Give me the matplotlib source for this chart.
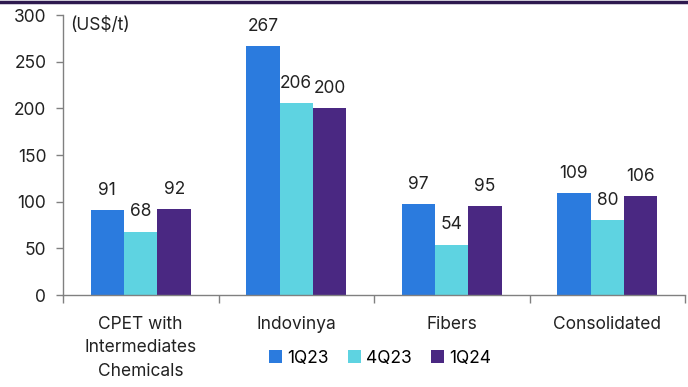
import matplotlib
matplotlib.use("Agg")
import matplotlib.pyplot as plt
import numpy as np

categories = ["CPET with\nIntermediates\nChemicals", "Indovinya", "Fibers", "Consolidated"]
series_names = ["1Q23", "4Q23", "1Q24"]
q1_23 = [91, 267, 97, 109]
q4_23 = [68, 206, 54, 80]
q1_24 = [92, 200, 95, 106]
yticks = [0, 50, 100, 150, 200, 250, 300]
colors = ["#2B7BDE", "#5ED3E1", "#4A2882"]

plt.rcParams['font.family'] = ['Inter', 'DejaVu Sans']
fig = plt.figure(figsize=(6.88, 3.87), dpi=100)
ax = fig.add_axes([63/688, 1-295/387, (685-63)/688, (295-15)/387])

x = np.arange(len(categories))
w = 0.215
fs = 12.5
tc = "#222222"
for i, (vals, name) in enumerate(zip([q1_23, q4_23, q1_24], series_names)):
    pos = x + (i - 1) * w
    ax.bar(pos, vals, width=w, color=colors[i], label=name, zorder=2)
    for xp, v in zip(pos, vals):
        ax.annotate(str(v), (xp, v), xytext=(0, 8), textcoords="offset points",
                    ha="center", va="bottom", fontsize=fs, color=tc)

ax.set_xlim(-0.5, 3.5)
ax.set_ylim(0, 300)
ax.set_yticks(yticks)
ax.set_yticklabels([str(t) for t in yticks], fontsize=fs, color=tc)
ax.tick_params(axis="y", length=5, color="#808080", width=1, pad=7)

ax.set_xticks(np.arange(-0.5, 4.0, 1.0))
ax.set_xticklabels([])
ax.tick_params(axis="x", which="major", length=6, color="#808080", width=1)
ax.set_xticks(x, minor=True)
ax.set_xticklabels(categories, minor=True, fontsize=fs, color=tc, linespacing=1.5)
ax.tick_params(axis="x", which="minor", length=0, pad=15)

for s in ["top", "right"]:
    ax.spines[s].set_visible(False)
for s in ["left", "bottom"]:
    ax.spines[s].set_color("#808080")
    ax.spines[s].set_linewidth(1)

ax.text(70/688, 1-25/387, "(US$/t)", transform=fig.transFigure, fontsize=fs,
        color=tc, va="center", ha="left")

fig.legend(loc="center", bbox_to_anchor=(0.553, 1-358/387), ncol=3, frameon=False,
           fontsize=fs, handlelength=0.75, handleheight=0.75, handletextpad=0.3,
           columnspacing=1.1)

fig.add_artist(plt.Line2D([0, 1], [1-1.5/387, 1-1.5/387], transform=fig.transFigure,
                          color="#2E1A4F", linewidth=2.5))

fig.savefig("out.png", dpi=100)
